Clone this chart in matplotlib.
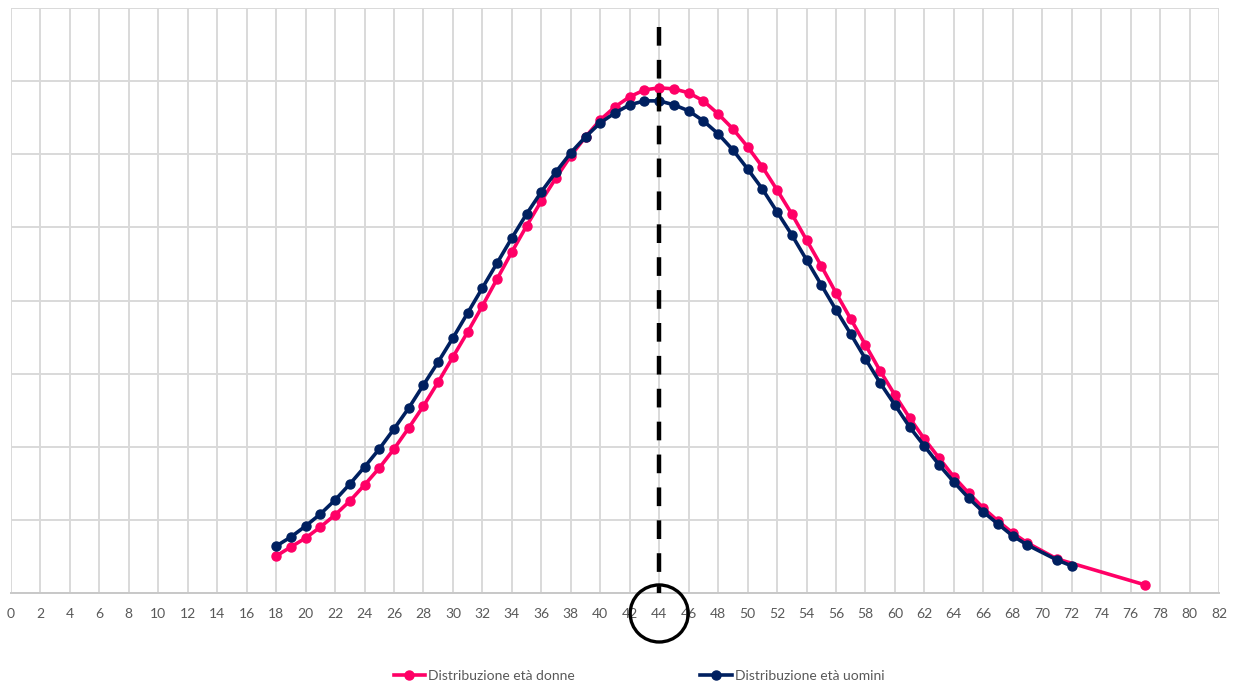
import matplotlib
matplotlib.use("Agg")
import matplotlib.pyplot as plt
from matplotlib.patches import Ellipse

plt.rcParams['font.family'] = ['Lato', 'DejaVu Sans']

# Data (values in %)
eta_donne = [18, 19, 20, 21, 22, 23, 24, 25, 26, 27, 28, 29, 30, 31, 32, 33, 34, 35, 36, 37,
             38, 39, 40, 41, 42, 43, 44, 45, 46, 47, 48, 49, 50, 51, 52, 53, 54, 55, 56, 57,
             58, 59, 60, 61, 62, 63, 64, 65, 66, 67, 68, 69, 71, 77]
val_donne = [0.253, 0.315, 0.376, 0.451, 0.534, 0.629, 0.739, 0.855, 0.985, 1.129,
             1.279, 1.443, 1.614, 1.785, 1.963, 2.148, 2.332, 2.510, 2.681, 2.839,
             2.989, 3.119, 3.235, 3.324, 3.393, 3.440, 3.454, 3.447, 3.420, 3.365,
             3.276, 3.174, 3.051, 2.914, 2.756, 2.592, 2.414, 2.237, 2.052, 1.874,
             1.696, 1.518, 1.354, 1.197, 1.053, 0.923, 0.794, 0.684, 0.581, 0.492,
             0.410, 0.342, 0.233, 0.055]

eta_uomini = [18, 19, 20, 21, 22, 23, 24, 25, 26, 27, 28, 29, 30, 31, 32, 33, 34, 35, 36, 37,
              38, 39, 40, 41, 42, 43, 44, 45, 46, 47, 48, 49, 50, 51, 52, 53, 54, 55, 56, 57,
              58, 59, 60, 61, 62, 63, 64, 65, 66, 67, 68, 69, 71, 72]
val_uomini = [0.321, 0.383, 0.458, 0.540, 0.636, 0.745, 0.862, 0.985, 1.122, 1.265,
              1.423, 1.580, 1.744, 1.915, 2.086, 2.257, 2.428, 2.592, 2.743, 2.880,
              3.010, 3.119, 3.215, 3.283, 3.338, 3.365, 3.365, 3.338, 3.297, 3.228,
              3.140, 3.030, 2.900, 2.763, 2.606, 2.449, 2.278, 2.107, 1.936, 1.771,
              1.601, 1.436, 1.286, 1.135, 1.005, 0.876, 0.759, 0.650, 0.554, 0.472,
              0.390, 0.328, 0.226, 0.185]

eta_media = 44
x_ticks = list(range(0, 83, 2))
y_grid = [0.5 * i for i in range(9)]

label_donne = "Distribuzione età donne"
label_uomini = "Distribuzione età uomini"

pink = "#FF0066"
navy = "#002060"
grid_c = "#D9D9D9"
txt_c = "#595959"

fig = plt.figure(figsize=(12.38, 6.86), dpi=100)
ax = fig.add_axes([11 / 1238, 93 / 686, 1208 / 1238, 585 / 686])

ax.set_xlim(0, 82)
ax.set_ylim(0, 4)
ax.set_xticks(x_ticks)
ax.set_yticks(y_grid)
ax.set_yticklabels([])
ax.tick_params(axis='both', length=0)
ax.tick_params(axis='x', colors=txt_c, labelsize=10, pad=11)
ax.grid(True, color=grid_c, linewidth=1.4)
ax.set_axisbelow(True)
for s in ['top', 'right', 'left']:
    ax.spines[s].set_visible(False)
ax.spines['bottom'].set_color("#C8C8C8")
ax.spines['bottom'].set_linewidth(1.4)

l1, = ax.plot(eta_donne, val_donne, color=pink, linewidth=2.6, marker='o',
              markersize=6.5, label=label_donne, zorder=3)
l2, = ax.plot(eta_uomini, val_uomini, color=navy, linewidth=2.6, marker='o',
              markersize=6.5, label=label_uomini, zorder=4)

ax.plot([eta_media, eta_media], [3.87, 0], color='black', linewidth=3.2,
        linestyle=(0, (4.2, 3.2)), zorder=5)

circ = Ellipse((eta_media, -0.14), width=3.94, height=0.39, fill=False,
               edgecolor='black', linewidth=2.4, clip_on=False, zorder=6)
ax.add_patch(circ)

leg = fig.legend(handles=[l1, l2], loc='center left',
                 bbox_to_anchor=(381 / 1238, 1 - 676 / 686), ncol=2, frameon=False,
                 fontsize=10, handlelength=2.3, handletextpad=0.2,
                 columnspacing=9.0, labelcolor=txt_c)

fig.savefig("out.png", dpi=100)
